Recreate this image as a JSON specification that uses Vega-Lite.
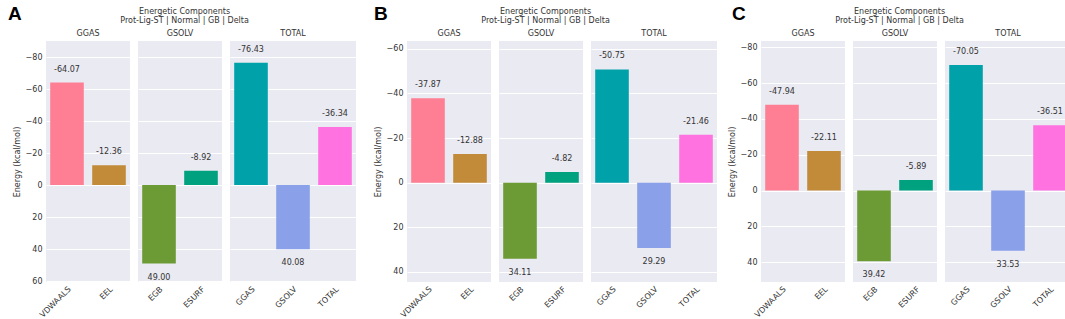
{
  "$schema": "https://vega.github.io/schema/vega-lite/v6.json",
  "padding": {"left": 8, "top": 5, "right": 0, "bottom": 0},
  "background": "white",
  "datasets": {
    "energy": [
      {"panel": "A", "group": "GGAS", "term": "VDWAALS", "value": -64.07},
      {"panel": "A", "group": "GGAS", "term": "EEL", "value": -12.36},
      {"panel": "A", "group": "GSOLV", "term": "EGB", "value": 49.00},
      {"panel": "A", "group": "GSOLV", "term": "ESURF", "value": -8.92},
      {"panel": "A", "group": "TOTAL", "term": "GGAS", "value": -76.43},
      {"panel": "A", "group": "TOTAL", "term": "GSOLV", "value": 40.08},
      {"panel": "A", "group": "TOTAL", "term": "TOTAL", "value": -36.34},
      {"panel": "B", "group": "GGAS", "term": "VDWAALS", "value": -37.87},
      {"panel": "B", "group": "GGAS", "term": "EEL", "value": -12.88},
      {"panel": "B", "group": "GSOLV", "term": "EGB", "value": 34.11},
      {"panel": "B", "group": "GSOLV", "term": "ESURF", "value": -4.82},
      {"panel": "B", "group": "TOTAL", "term": "GGAS", "value": -50.75},
      {"panel": "B", "group": "TOTAL", "term": "GSOLV", "value": 29.29},
      {"panel": "B", "group": "TOTAL", "term": "TOTAL", "value": -21.46},
      {"panel": "C", "group": "GGAS", "term": "VDWAALS", "value": -47.94},
      {"panel": "C", "group": "GGAS", "term": "EEL", "value": -22.11},
      {"panel": "C", "group": "GSOLV", "term": "EGB", "value": 39.42},
      {"panel": "C", "group": "GSOLV", "term": "ESURF", "value": -5.89},
      {"panel": "C", "group": "TOTAL", "term": "GGAS", "value": -70.05},
      {"panel": "C", "group": "TOTAL", "term": "GSOLV", "value": 33.53},
      {"panel": "C", "group": "TOTAL", "term": "TOTAL", "value": -36.51}
    ]
  },
  "config": {
    "font": "DejaVu Sans",
    "locale": {"number": {"decimal": ".", "thousands": ",", "grouping": [3], "currency": ["$", ""], "minus": "-"}},
    "view": {"fill": "#eaeaf2", "stroke": null},
    "header": {"labelFontSize": 8, "labelColor": "#333333", "labelFont": "DejaVu Sans", "labelPadding": 3},
    "axis": {"labelFont": "DejaVu Sans", "titleFont": "DejaVu Sans", "labelColor": "#333333", "titleColor": "#333333", "titleFontWeight": "normal", "labelFontSize": 8, "titleFontSize": 8, "ticks": false, "domain": false},
    "axisY": {"gridColor": "white", "gridWidth": 1, "gridOpacity": 1, "labelPadding": 4, "titlePadding": 4, "labelExpr": "replace(datum.label, '-', '\u2212')"},
    "axisX": {"grid": false, "labelAngle": -45, "labelAlign": "right", "labelBaseline": "top", "labelPadding": 3},
    "title": {"font": "DejaVu Sans", "fontSize": 8, "fontWeight": "normal", "color": "#333333", "subtitleFont": "DejaVu Sans", "subtitleFontSize": 8, "subtitleColor": "#333333", "subtitlePadding": 1, "offset": 5}
  },
  "spacing": 11,
  "hconcat": [
    {
      "spacing": 18,
      "hconcat": [
        {
          "title": {"text": "A", "anchor": "start", "fontSize": 19, "fontWeight": "bold", "font": "Liberation Sans", "color": "black", "baseline": "top", "offset": 0, "dy": 16, "dx": -5},
          "hconcat": [
            {
              "title": {"text": "Energetic Components", "subtitle": "Prot-Lig-ST | Normal | GB | Delta", "anchor": "middle"},
              "data": {"name": "energy"},
              "transform": [{"filter": "datum.panel === 'A'"}],
              "facet": {"column": {"field": "group", "type": "nominal", "title": null, "sort": ["GGAS", "GSOLV", "TOTAL"]}},
              "spacing": 8,
              "bounds": "flush",
              "resolve": {"scale": {"x": "independent"}},
              "spec": {
                "width": {"step": 42},
                "height": 241,
                "encoding": {
                  "x": {"field": "term", "type": "nominal", "sort": ["VDWAALS", "EEL", "EGB", "ESURF", "GGAS", "GSOLV", "TOTAL"], "title": null, "scale": {"paddingInner": 0.2, "paddingOuter": 0.1}},
                  "y": {"field": "value", "type": "quantitative", "title": "Energy (kcal/mol)", "scale": {"domain": [-90, 60.5], "reverse": true, "nice": false, "zero": false}, "axis": {"values": [-80, -60, -40, -20, 0, 20, 40, 60]}}
                },
                "layer": [
                  {"mark": {"type": "bar"}, "encoding": {"color": {"field": "term", "type": "nominal", "legend": null, "scale": {"domain": ["VDWAALS", "EEL", "EGB", "ESURF", "GGAS", "GSOLV", "TOTAL"], "range": ["#fe7f93", "#c18b3a", "#6c9a34", "#00a17e", "#00a1a9", "#8aa0e8", "#ff72df"]}}}},
                  {"transform": [{"filter": "datum.value < 0"}], "mark": {"type": "text", "dy": -13, "fontSize": 8, "color": "#333333"}, "encoding": {"text": {"field": "value", "type": "quantitative", "format": ".2f"}}},
                  {"transform": [{"filter": "datum.value >= 0"}], "mark": {"type": "text", "dy": 14, "fontSize": 8, "color": "#333333"}, "encoding": {"text": {"field": "value", "type": "quantitative", "format": ".2f"}}}
                ]
              }
            }
          ]
        },
        {
          "title": {"text": "B", "anchor": "start", "fontSize": 19, "fontWeight": "bold", "font": "Liberation Sans", "color": "black", "baseline": "top", "offset": 0, "dy": 16, "dx": 0},
          "hconcat": [
            {
              "title": {"text": "Energetic Components", "subtitle": "Prot-Lig-ST | Normal | GB | Delta", "anchor": "middle"},
              "data": {"name": "energy"},
              "transform": [{"filter": "datum.panel === 'B'"}],
              "facet": {"column": {"field": "group", "type": "nominal", "title": null, "sort": ["GGAS", "GSOLV", "TOTAL"]}},
              "spacing": 8,
              "bounds": "flush",
              "resolve": {"scale": {"x": "independent"}},
              "spec": {
                "width": {"step": 42},
                "height": 241,
                "encoding": {
                  "x": {"field": "term", "type": "nominal", "sort": ["VDWAALS", "EEL", "EGB", "ESURF", "GGAS", "GSOLV", "TOTAL"], "title": null, "scale": {"paddingInner": 0.2, "paddingOuter": 0.1}},
                  "y": {"field": "value", "type": "quantitative", "title": "Energy (kcal/mol)", "scale": {"domain": [-63.5, 44.5], "reverse": true, "nice": false, "zero": false}, "axis": {"values": [-60, -40, -20, 0, 20, 40]}}
                },
                "layer": [
                  {"mark": {"type": "bar"}, "encoding": {"color": {"field": "term", "type": "nominal", "legend": null, "scale": {"domain": ["VDWAALS", "EEL", "EGB", "ESURF", "GGAS", "GSOLV", "TOTAL"], "range": ["#fe7f93", "#c18b3a", "#6c9a34", "#00a17e", "#00a1a9", "#8aa0e8", "#ff72df"]}}}},
                  {"transform": [{"filter": "datum.value < 0"}], "mark": {"type": "text", "dy": -13, "fontSize": 8, "color": "#333333"}, "encoding": {"text": {"field": "value", "type": "quantitative", "format": ".2f"}}},
                  {"transform": [{"filter": "datum.value >= 0"}], "mark": {"type": "text", "dy": 14, "fontSize": 8, "color": "#333333"}, "encoding": {"text": {"field": "value", "type": "quantitative", "format": ".2f"}}}
                ]
              }
            }
          ]
        }
      ]
    },
    {
      "title": {"text": "C", "anchor": "start", "fontSize": 19, "fontWeight": "bold", "font": "Liberation Sans", "color": "black", "baseline": "top", "offset": 0, "dy": 16, "dx": 4},
      "hconcat": [
        {
          "title": {"text": "Energetic Components", "subtitle": "Prot-Lig-ST | Normal | GB | Delta", "anchor": "middle"},
          "data": {"name": "energy"},
          "transform": [{"filter": "datum.panel === 'C'"}],
          "facet": {"column": {"field": "group", "type": "nominal", "title": null, "sort": ["GGAS", "GSOLV", "TOTAL"]}},
          "spacing": 8,
          "bounds": "flush",
          "resolve": {"scale": {"x": "independent"}},
          "spec": {
            "width": {"step": 42},
            "height": 241,
            "encoding": {
              "x": {"field": "term", "type": "nominal", "sort": ["VDWAALS", "EEL", "EGB", "ESURF", "GGAS", "GSOLV", "TOTAL"], "title": null, "scale": {"paddingInner": 0.2, "paddingOuter": 0.1}},
              "y": {"field": "value", "type": "quantitative", "title": "Energy (kcal/mol)", "scale": {"domain": [-83.5, 51], "reverse": true, "nice": false, "zero": false}, "axis": {"values": [-80, -60, -40, -20, 0, 20, 40]}}
            },
            "layer": [
              {"mark": {"type": "bar"}, "encoding": {"color": {"field": "term", "type": "nominal", "legend": null, "scale": {"domain": ["VDWAALS", "EEL", "EGB", "ESURF", "GGAS", "GSOLV", "TOTAL"], "range": ["#fe7f93", "#c18b3a", "#6c9a34", "#00a17e", "#00a1a9", "#8aa0e8", "#ff72df"]}}}},
              {"transform": [{"filter": "datum.value < 0"}], "mark": {"type": "text", "dy": -13, "fontSize": 8, "color": "#333333"}, "encoding": {"text": {"field": "value", "type": "quantitative", "format": ".2f"}}},
              {"transform": [{"filter": "datum.value >= 0"}], "mark": {"type": "text", "dy": 14, "fontSize": 8, "color": "#333333"}, "encoding": {"text": {"field": "value", "type": "quantitative", "format": ".2f"}}}
            ]
          }
        }
      ]
    }
  ]
}
